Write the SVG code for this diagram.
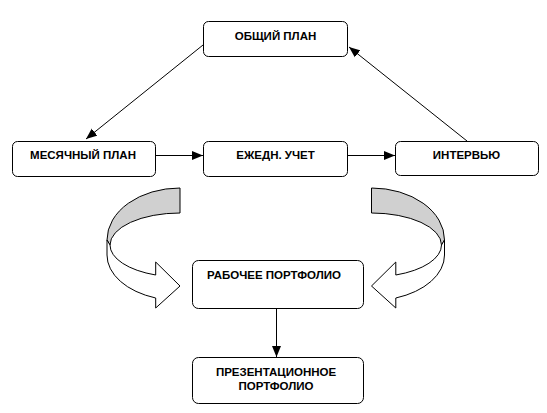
<svg xmlns="http://www.w3.org/2000/svg" width="547" height="413" viewBox="0 0 547 413">
<style>
.box{fill:#fff;stroke:#000;stroke-width:1}
.t{font-family:"Liberation Sans",Arial,sans-serif;font-weight:bold;font-size:11.5px;fill:#000;text-anchor:middle}
.c{stroke:#000;stroke-width:1;fill:none}
.g{fill:#d0d0d0;stroke:#000;stroke-width:1}
.w{fill:#fff;stroke:#000;stroke-width:1}
</style>
<defs>
<marker id="ah" markerUnits="userSpaceOnUse" markerWidth="12" markerHeight="10" refX="11" refY="5" orient="auto">
<path d="M0,0.5 L11,5 L0,9.5 Z" fill="#000"/>
</marker>
<g id="curl">
<path class="g" d="M180,188 A73,52 0 0 0 107,240 L110,245 A70,32 0 0 1 180,213 Z"/>
<path class="w" d="M107,240 L107,255 A73,45.6 0 0 0 155.7,298 L155.7,308 L180,286 L155.7,262 L155.7,275 A70,32 0 0 1 110,245 Z"/>
</g>
</defs>
<rect width="547" height="413" fill="#fff"/>
<g id="connectors">
<line class="c" x1="203" y1="45" x2="86" y2="139" marker-end="url(#ah)"/>
<line class="c" x1="467" y1="141" x2="349" y2="47" marker-end="url(#ah)"/>
<line class="c" x1="155" y1="155.5" x2="203" y2="155.5" marker-end="url(#ah)"/>
<line class="c" x1="347" y1="155.5" x2="395" y2="155.5" marker-end="url(#ah)"/>
<line class="c" x1="276.5" y1="308" x2="276.5" y2="357" marker-end="url(#ah)"/>
</g>
<g id="curl-left"><use href="#curl"/></g>
<g id="curl-right"><use href="#curl" transform="matrix(-1,0,0,1,551.5,0)"/></g>
<g id="obshchiy-plan">
<rect class="box" x="203.5" y="21.5" width="144" height="35" rx="5"/>
<text class="t" x="275.5" y="40">ОБЩИЙ ПЛАН</text>
</g>
<g id="mesyachnyy-plan">
<rect class="box" x="12.5" y="141.5" width="143" height="35" rx="5"/>
<text class="t" x="83" y="159">МЕСЯЧНЫЙ ПЛАН</text>
</g>
<g id="ezhedn-uchet">
<rect class="box" x="203.5" y="141.5" width="144" height="35" rx="5"/>
<text class="t" x="275.5" y="159">ЕЖЕДН. УЧЕТ</text>
</g>
<g id="intervyu">
<rect class="box" x="395.5" y="141.5" width="143" height="34" rx="5"/>
<text class="t" x="466.5" y="159">ИНТЕРВЬЮ</text>
</g>
<g id="rabochee-portfolio">
<rect class="box" x="192.5" y="260.5" width="171" height="48" rx="6"/>
<text class="t" x="274" y="279">РАБОЧЕЕ ПОРТФОЛИО</text>
</g>
<g id="prezentatsionnoe-portfolio">
<rect class="box" x="192.5" y="357.5" width="171" height="46" rx="6"/>
<text class="t" x="276" y="376">ПРЕЗЕНТАЦИОННОЕ</text>
<text class="t" x="276" y="390">ПОРТФОЛИО</text>
</g>
</svg>
